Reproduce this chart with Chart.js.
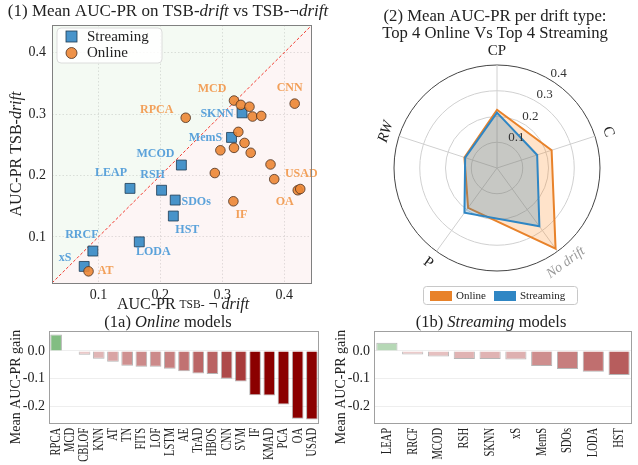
<!DOCTYPE html>
<html>
<head>
<meta charset="utf-8">
<script src="https://cdn.jsdelivr.net/npm/chart.js@4.4.0/dist/chart.umd.min.js"></script>
<style>
  body { margin: 0; background: #fff; width: 638px; height: 465px; position: relative; overflow: hidden; }
  .box { position: absolute; }
  canvas { display: block; }
</style>
</head>
<body>
<div class="box" style="left:0;top:0"><canvas id="scatter" width="340" height="315"></canvas></div>
<div class="box" style="left:340px;top:0"><canvas id="radar" width="298" height="310"></canvas></div>
<div class="box" style="left:0;top:310px"><canvas id="barOnline" width="330" height="155"></canvas></div>
<div class="box" style="left:325px;top:310px"><canvas id="barStream" width="313" height="155"></canvas></div>
<script>
// ---- data ----
const streamNames = ['SKNN', 'MemS', 'MCOD', 'LEAP', 'RSH', 'SDOs', 'HST', 'LODA', 'RRCF', 'xS'];
const streamNoDrift = [0.332, 0.315, 0.234, 0.151, 0.202, 0.224, 0.221, 0.166, 0.091, 0.077];
const streamDrift = [0.302, 0.262, 0.217, 0.179, 0.176, 0.160, 0.134, 0.092, 0.077, 0.052];

const onlineNames = ['MCD', 'CBLOF', 'KNN', 'TN', 'LSTM', 'CNN', 'RPCA', 'FITS', 'HBOS', 'AE', 'LOF', 'SVM', 'KMAD', 'TrAD', 'PCA', 'OA', 'USAD', 'IF', 'AT'];
const onlineNoDrift = [0.319, 0.330, 0.344, 0.349, 0.363, 0.417, 0.241, 0.326, 0.336, 0.319, 0.297, 0.346, 0.378, 0.288, 0.384, 0.422, 0.426, 0.318, 0.084];
const onlineDrift = [0.322, 0.315, 0.312, 0.296, 0.297, 0.317, 0.294, 0.271, 0.253, 0.245, 0.241, 0.237, 0.218, 0.204, 0.194, 0.176, 0.178, 0.158, 0.044];
const scatterTicks = [0.1, 0.2, 0.3, 0.4];

const driftTypes = ['CP', 'C', 'No drift', 'P', 'RW'];
const radarOnline = [0.226, 0.223, 0.387, 0.191, 0.133];
const radarStream = [0.215, 0.164, 0.280, 0.215, 0.130];
const radarTicks = [0.1, 0.2, 0.3, 0.4];

const onlineModels = ['RPCA', 'MCD', 'CBLOF', 'KNN', 'AT', 'TN', 'FITS', 'LOF', 'LSTM', 'AE', 'TrAD', 'HBOS', 'CNN', 'SVM', 'IF', 'KMAD', 'PCA', 'OA', 'USAD'];
const onlineGain = [0.059, 0.002, -0.014, -0.028, -0.039, -0.053, -0.057, -0.057, -0.064, -0.073, -0.081, -0.083, -0.100, -0.110, -0.160, -0.161, -0.193, -0.245, -0.247];
const streamModels = ['LEAP', 'RRCF', 'MCOD', 'RSH', 'SKNN', 'xS', 'MemS', 'SDOs', 'LODA', 'HST'];
const streamGain = [0.030, -0.013, -0.020, -0.029, -0.029, -0.031, -0.054, -0.065, -0.075, -0.087];
const gainTicks = [0, -0.1, -0.2];

// ---- styling ----
const SERIF = "'Liberation Serif', 'DejaVu Serif', serif";
const F = (size, style) => (style || '') + ' ' + size + 'px ' + SERIF;
const AX_MIN = 0.025, AX_MAX = 0.445;

// pixel offsets for the point names in the scatter
const labelOffsets = {
  MCD: [-22, -12], CNN: [-5, -16], RPCA: [-29, -8], USAD: [1, -15], OA: [-13, 12], IF: [8, 14], AT: [17, 0],
  SKNN: [-25, 1], MemS: [-26, 0], MCOD: [-26, -11], LEAP: [-19, -15], RSH: [-9, -15], SDOs: [21, 2],
  HST: [14, 14], LODA: [14, 10], RRCF: [-11, -16], xS: [-19, -9]
};

// draws a line of text made of several font runs
function rich(ctx, parts, x, y, rot) {
  ctx.save();
  ctx.translate(x, y);
  if (rot) ctx.rotate(rot);
  ctx.textBaseline = 'middle';
  ctx.textAlign = 'left';
  let w = 0;
  parts.forEach(p => { ctx.font = p.f; p.w = ctx.measureText(p.t).width; w += p.w; });
  let cx = -w / 2;
  parts.forEach(p => { ctx.font = p.f; ctx.fillStyle = p.c || '#222'; ctx.fillText(p.t, cx, 0); cx += p.w; });
  ctx.restore();
}

function frame(chart, color) {
  const { ctx, chartArea: a } = chart;
  ctx.save();
  ctx.strokeStyle = color;
  ctx.lineWidth = 1;
  ctx.strokeRect(Math.round(a.left) + 0.5, Math.round(a.top) + 0.5, Math.round(a.right - a.left) - 1, Math.round(a.bottom - a.top));
  ctx.restore();
}

function roundBox(ctx, x, y, w, h, r, fill, stroke) {
  ctx.beginPath();
  ctx.moveTo(x + r, y);
  ctx.arcTo(x + w, y, x + w, y + h, r);
  ctx.arcTo(x + w, y + h, x, y + h, r);
  ctx.arcTo(x, y + h, x, y, r);
  ctx.arcTo(x, y, x + w, y, r);
  ctx.closePath();
  ctx.fillStyle = fill; ctx.fill();
  ctx.strokeStyle = stroke; ctx.lineWidth = 1; ctx.stroke();
}

// ---- (1) scatter ----
const scatterDecor = {
  id: 'scatterDecor',
  beforeDraw(chart) {
    const { ctx, chartArea: a } = chart;
    ctx.save();
    ctx.fillStyle = '#f4faf3';
    ctx.beginPath(); ctx.moveTo(a.left, a.bottom); ctx.lineTo(a.left, a.top); ctx.lineTo(a.right, a.top); ctx.closePath(); ctx.fill();
    ctx.fillStyle = '#fdf5f5';
    ctx.beginPath(); ctx.moveTo(a.left, a.bottom); ctx.lineTo(a.right, a.bottom); ctx.lineTo(a.right, a.top); ctx.closePath(); ctx.fill();
    ctx.restore();
  },
  afterDatasetsDraw(chart) {
    const ctx = chart.ctx;
    chart.data.datasets.forEach((ds, di) => {
      if (!ds.names) return;
      const meta = chart.getDatasetMeta(di);
      ds.names.forEach((n, i) => {
        const off = labelOffsets[n];
        if (!off) return;
        const el = meta.data[i];
        rich(ctx, [{ t: n, f: F(12, 'bold'), c: ds.labelColor }], el.x + off[0], el.y + off[1]);
      });
    });
  },
  afterDraw(chart) {
    const { ctx, chartArea: a } = chart;
    frame(chart, '#808080');
    // legend
    ctx.save();
    const lx = a.left + 5, ly = a.top + 3;
    roundBox(ctx, lx, ly, 105, 35, 4, 'rgba(255,255,255,0.85)', '#dcdcdc');
    ctx.fillStyle = 'rgba(52,136,196,0.9)'; ctx.strokeStyle = '#1d3a52'; ctx.lineWidth = 0.8;
    ctx.fillRect(lx + 9, ly + 3, 11, 11); ctx.strokeRect(lx + 9, ly + 3, 11, 11);
    ctx.beginPath(); ctx.arc(lx + 14.5, ly + 25, 5.5, 0, Math.PI * 2);
    ctx.fillStyle = 'rgba(236,134,52,0.9)'; ctx.fill(); ctx.strokeStyle = '#4a3020'; ctx.stroke();
    ctx.fillStyle = '#222'; ctx.font = F(15); ctx.textBaseline = 'middle';
    ctx.fillText('Streaming', lx + 30, ly + 9);
    ctx.fillText('Online', lx + 30, ly + 25);
    ctx.restore();
    // titles
    rich(ctx, [
      { t: '(1) Mean AUC-PR on TSB-', f: F(17) }, { t: 'drift', f: F(17, 'italic') },
      { t: ' vs TSB-\u00ac', f: F(17) }, { t: 'drift', f: F(17, 'italic') }
    ], 168, 12);
    rich(ctx, [
      { t: 'AUC-PR ', f: F(16) }, { t: 'TSB-', f: F(11.5) }, { t: ' \u00ac ', f: F(16) }, { t: 'drift', f: F(16, 'italic') }
    ], 183, 305);
    rich(ctx, [{ t: 'AUC-PR TSB-', f: F(16) }, { t: 'drift', f: F(16, 'italic') }], 17, (a.top + a.bottom) / 2, -Math.PI / 2);
  }
};

const axisTicks = { font: { family: SERIF, size: 14 }, color: '#222', callback: v => v.toFixed(1) };

new Chart(document.getElementById('scatter'), {
  type: 'scatter',
  data: {
    datasets: [
      { type: 'line', data: [{ x: AX_MIN, y: AX_MIN }, { x: AX_MAX, y: AX_MAX }], borderColor: '#f23a30', borderWidth: 1,
        borderDash: [3, 2], pointRadius: 0, fill: false, order: 3 },
      { label: 'Streaming', data: streamNoDrift.map((v, i) => ({ x: v, y: streamDrift[i] })), names: streamNames,
        pointStyle: 'rect', pointRadius: 7, backgroundColor: 'rgba(52,136,196,0.9)', borderColor: '#1d3a52', borderWidth: 0.8,
        labelColor: '#5ba2da', order: 2 },
      { label: 'Online', data: onlineNoDrift.map((v, i) => ({ x: v, y: onlineDrift[i] })), names: onlineNames,
        pointStyle: 'circle', pointRadius: 4.8, backgroundColor: 'rgba(236,134,52,0.9)', borderColor: '#4a3020', borderWidth: 0.8,
        labelColor: '#f2a05a', order: 1 }
    ]
  },
  options: {
    responsive: false,
    animation: false,
    layout: { padding: { top: 25, right: 28, left: 0, bottom: 0 } },
    plugins: { legend: { display: false }, tooltip: { enabled: false } },
    scales: {
      x: {
        type: 'linear', min: AX_MIN, max: AX_MAX,
        afterBuildTicks: s => { s.ticks = scatterTicks.map(v => ({ value: v })); },
        afterFit: s => { s.height = 32; },
        ticks: Object.assign({ padding: 4 }, axisTicks),
        grid: { color: 'rgba(0,0,0,0.11)', drawTicks: false },
        border: { display: false, dash: [1.5, 2] }
      },
      y: {
        type: 'linear', min: AX_MIN, max: AX_MAX,
        afterBuildTicks: s => { s.ticks = scatterTicks.map(v => ({ value: v })); },
        afterFit: s => { s.width = 52; },
        ticks: Object.assign({ padding: 6 }, axisTicks),
        grid: { color: 'rgba(0,0,0,0.11)', drawTicks: false },
        border: { display: false, dash: [1.5, 2] }
      }
    }
  },
  plugins: [scatterDecor]
});

// ---- (2) radar ----
const radarDecor = {
  id: 'radarDecor',
  afterDraw(chart) {
    const ctx = chart.ctx;
    const s = chart.scales.r;
    // axis names, rotated along the circle
    driftTypes.forEach((name, i) => {
      const p = s.getPointPosition(i, s.drawingArea + 14);
      const deg = i * 360 / driftTypes.length;
      const rot = deg <= 90 ? deg : deg < 270 ? deg - 180 : deg - 360;
      let f = F(15), c = '#222';
      if (name === 'No drift') { f = F(14, 'italic'); c = '#999'; }
      if (name === 'RW') f = F(15, 'italic');
      rich(ctx, [{ t: name, f: f, c: c }], p.x, p.y, rot * Math.PI / 180);
    });
    // radial tick labels
    const ang = 33 * Math.PI / 180;
    radarTicks.forEach(v => {
      const d = s.getDistanceFromCenterForValue(v) + 10;
      rich(ctx, [{ t: v.toFixed(1), f: F(13), c: '#333' }], s.xCenter + Math.sin(ang) * d, s.yCenter - Math.cos(ang) * d);
    });
    rich(ctx, [{ t: '(2) Mean AUC-PR per drift type:', f: F(16.7) }], 155, 17);
    rich(ctx, [{ t: 'Top 4 Online Vs Top 4 Streaming', f: F(16.7) }], 155, 34);
    // legend
    ctx.save();
    roundBox(ctx, 83.5, 286.5, 154, 18, 3, '#fff', '#c8c8c8');
    ctx.fillStyle = '#e8822a'; ctx.fillRect(90, 291, 22, 10);
    ctx.fillStyle = '#2f86c4'; ctx.fillRect(154, 291, 22, 10);
    ctx.fillStyle = '#222'; ctx.font = F(11); ctx.textBaseline = 'middle';
    ctx.fillText('Online', 116, 296.5);
    ctx.fillText('Streaming', 180, 296.5);
    ctx.restore();
  }
};

new Chart(document.getElementById('radar'), {
  type: 'radar',
  data: {
    labels: driftTypes,
    datasets: [
      { label: 'Online', data: radarOnline, borderColor: '#e8822a', backgroundColor: 'rgba(255,127,14,0.22)',
        borderWidth: 2, pointRadius: 0, fill: true, order: 2 },
      { label: 'Streaming', data: radarStream, borderColor: '#2f86c4', backgroundColor: 'rgba(31,119,180,0.25)',
        borderWidth: 2, pointRadius: 0, fill: true, order: 1 }
    ]
  },
  options: {
    responsive: false,
    animation: false,
    layout: { padding: { left: 54, top: 65, right: 38, bottom: 39 } },
    plugins: { legend: { display: false }, tooltip: { enabled: false } },
    elements: { line: { tension: 0 } },
    scales: {
      r: {
        min: 0, max: 0.4,
        afterBuildTicks: s => { s.ticks = [0].concat(radarTicks).map(v => ({ value: v })); },
        ticks: { display: false },
        pointLabels: { display: false },
        grid: { circular: true, color: c => (c.tick && c.tick.value > 0.35 ? '#444' : '#d0d0d0') },
        angleLines: { color: '#d0d0d0' }
      }
    }
  },
  plugins: [radarDecor]
});

// ---- (1a) / (1b) gain bars ----
function mix(a, b, t) {
  return 'rgb(' + a.map((v, i) => Math.round(v + (b[i] - v) * t)).join(',') + ')';
}
function gainColor(v) {
  if (v >= 0) return mix([236, 243, 236], [128, 188, 128], Math.min(1, v / 0.06));
  return mix([244, 222, 222], [139, 0, 0], Math.min(1, -v / 0.15));
}

function barDecor(titleParts, titleX) {
  return {
    id: 'barDecor',
    afterDraw(chart) {
      const ctx = chart.ctx;
      const s = chart.scales.x;
      frame(chart, '#a0a0a0');
      chart.data.labels.forEach((lab, i) => {
        ctx.save();
        ctx.translate(s.getPixelForTick(i), s.top + 5);
        ctx.rotate(-Math.PI / 2);
        ctx.scale(0.7, 1);
        ctx.font = F(15);
        ctx.fillStyle = '#222';
        ctx.textAlign = 'right';
        ctx.textBaseline = 'middle';
        ctx.fillText(lab, 0, 0);
        ctx.restore();
      });
      rich(ctx, titleParts, titleX, 13);
      rich(ctx, [{ t: 'Mean AUC-PR gain', f: F(14) }], 16, 77, -Math.PI / 2);
    }
  };
}

function makeBar(id, labels, values, titleParts, titleX, rightPad) {
  new Chart(document.getElementById(id), {
    type: 'bar',
    data: {
      labels: labels,
      datasets: [{
        data: values,
        backgroundColor: values.map(gainColor),
        borderColor: 'rgba(90,90,90,0.45)',
        borderWidth: 1,
        barPercentage: 0.82,
        categoryPercentage: 1
      }]
    },
    options: {
      responsive: false,
      animation: false,
      layout: { padding: { top: 21, right: rightPad, left: 0, bottom: 0 } },
      plugins: { legend: { display: false }, tooltip: { enabled: false } },
      scales: {
        x: {
          ticks: { display: false },
          grid: { display: false },
          border: { display: false },
          afterFit: s => { s.height = 42; }
        },
        y: {
          min: -0.26, max: 0.072,
          afterBuildTicks: s => { s.ticks = gainTicks.map(v => ({ value: v })); },
          afterFit: s => { s.width = 49; },
          ticks: Object.assign({ padding: 4 }, axisTicks),
          grid: { color: '#eeeeee', drawTicks: false },
          border: { display: false }
        }
      }
    },
    plugins: [barDecor(titleParts, titleX)]
  });
}

makeBar('barOnline', onlineModels, onlineGain,
  [{ t: '(1a) ', f: F(16.5) }, { t: 'Online', f: F(16.5, 'italic') }, { t: ' models', f: F(16.5) }], 168, 11);
makeBar('barStream', streamModels, streamGain,
  [{ t: '(1b) ', f: F(16.5) }, { t: 'Streaming', f: F(16.5, 'italic') }, { t: ' models', f: F(16.5) }], 166, 6);
</script>
</body>
</html>
